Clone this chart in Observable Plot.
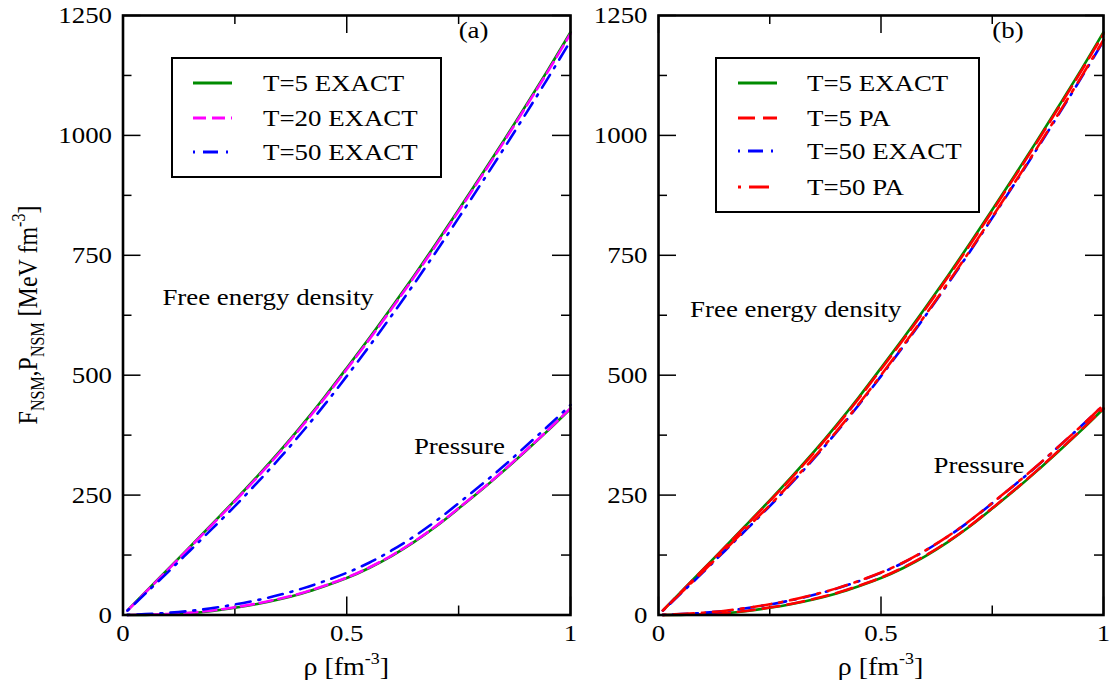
<!DOCTYPE html>
<html>
<head>
<meta charset="utf-8">
<script src="https://cdn.jsdelivr.net/npm/d3@7"></script>
<script src="https://cdn.jsdelivr.net/npm/@observablehq/plot@0.6"></script>
<style>
  html, body { margin: 0; padding: 0; background: #fff; }
  #wrap { width: 1110px; height: 683px; display: flex; overflow: hidden; }
  #wrap svg { display: block; overflow: visible; }
</style>
</head>
<body>
<div id="wrap"></div>
<script>
// ---------------- data ----------------
const rho = [0.01,0.05,0.1,0.15,0.2,0.25,0.3,0.35,0.4,0.45,0.5,0.55,0.6,0.65,0.7,0.75,0.8,0.85,0.9,0.95,1.0];

const F_T5_EXACT  = [9.5,47.5,95,142.5,190.5,239,289,341,396,454,515,577,641,707,775,845,916,988,1062,1137,1215];
const F_T20_EXACT = [9.4,47,94,141.3,189,237.2,287,338.8,393.6,451.5,512.3,574.2,638,704,772,842,913,985,1059,1134,1212];
const F_T50_EXACT = [9.2,44.5,89,134.5,180.5,227,276,327,381,438,498,560,624,690,758,828,899,971,1045,1120,1197];
const F_T5_PA     = [9.5,47.3,94.5,141.8,189.5,237.5,287,338.8,393.5,451.5,512.3,574,638,704,772,842,913,985,1059,1134,1212];
const F_T50_PA    = [9.3,45.5,90.5,136.5,182.5,229,278,329,383,440,500,562,626,692,760,830,901,973,1047,1122,1199];

const P_T5_EXACT  = [0,0.3,1.5,4,8.5,15,23,33,45,60,77,98,123,152,185,222,260,300,342,385,430];
const P_T20_EXACT = [0.1,0.6,2.1,4.8,9.4,16,24,34,46,61,78,99,124,153,186,223,261,301,343,386,431];
const P_T50_EXACT = [0.3,1.8,4.5,8.5,14.5,22,31,42,55,70.5,88,109,134.5,163.5,196.5,233,271,310,352,394,438];
const P_T5_PA     = [0,0.4,1.7,4.3,8.9,15.5,23.6,33.7,45.8,61,78,99,124,153,186,223,261,301,343,386,431];
const P_T50_PA    = [0.3,2,4.8,9,15,22.5,31.5,42.5,55.5,71,88.5,109.5,135,164,197,233.5,271.5,310.5,352,394,438];

const xMajor = [0, 0.5, 1];
const xMinor = [0.25, 0.75];
const yMajor = [0, 250, 500, 750, 1000, 1250];
const yMinor = [125, 375, 625, 875, 1125];

const legendA = ["T=5 EXACT", "T=20 EXACT", "T=50 EXACT"];
const legendB = ["T=5 EXACT", "T=5 PA", "T=50 EXACT", "T=50 PA"];

const annotA = [{x: 0.088, y: 662, text: "Free energy density"}, {x: 0.65, y: 351, text: "Pressure"}];
const annotB = [{x: 0.071, y: 637, text: "Free energy density"}, {x: 0.618, y: 312, text: "Pressure"}];
const panelLabelA = [{x: 0.75, y: 1220, text: "(a)"}];
const panelLabelB = [{x: 0.75, y: 1220, text: "(b)"}];

// ---------------- styles ----------------
const FONT = '"Liberation Serif", "Times New Roman", serif';
const STRETCH = 1.12;
const STY = {
  t5:    {stroke: "#008b00", dash: null},
  t20:   {stroke: "#ff00ff", dash: "13,6"},
  t50:   {stroke: "#0000ff", dash: "2,8,15,8"},
  t5pa:  {stroke: "#ff0000", dash: "17,8"},
  t50pa: {stroke: "#ff0000", dash: "3,8,20,8"}
};

function table(vals) { return rho.map((r, i) => ({rho: r, v: vals[i]})); }

function lineMarks(vals, sty) {
  return Plot.line(table(vals), {
    x: "rho", y: "v", curve: "natural",
    stroke: sty.stroke, strokeWidth: 2.6,
    strokeDasharray: sty.dash ?? undefined
  });
}

function stretchTexts(svg) {
  svg.querySelectorAll("text").forEach(t => {
    if (t.classList.contains("nostretch")) return;
    const tr = t.getAttribute("transform") || "";
    const x = parseFloat(t.getAttribute("x")) || 0;
    t.setAttribute("transform", `${tr} translate(${x * (1 - STRETCH)},0) scale(${STRETCH},1)`);
  });
}

function panel({width, ml, mr, series, annots, plabel, legend, legendStyles, box, yTitle}) {
  const H = 683, mt = 15, mb = 68.5;
  const pw = width - ml - mr, ph = H - mt - mb;
  const tick = {stroke: "black", strokeWidth: 1.5};
  const marks = [
    Plot.axisX(xMajor, {tickSize: 0, tickPadding: 9, tickFormat: d => String(d), fontSize: 24}),
    Plot.axisY(yMajor, {tickSize: 0, tickPadding: 11, tickFormat: d => String(d), fontSize: 24}),
    Plot.tickX(xMajor, {x: d => d, insetTop: ph - 18, ...tick}),
    Plot.tickX(xMajor, {x: d => d, insetBottom: ph - 18, ...tick}),
    Plot.tickX(xMinor, {x: d => d, insetTop: ph - 9, ...tick}),
    Plot.tickX(xMinor, {x: d => d, insetBottom: ph - 9, ...tick}),
    Plot.tickY(yMajor, {y: d => d, insetRight: pw - 18, ...tick}),
    Plot.tickY(yMajor, {y: d => d, insetLeft: pw - 18, ...tick}),
    Plot.tickY(yMinor, {y: d => d, insetRight: pw - 9, ...tick}),
    Plot.tickY(yMinor, {y: d => d, insetLeft: pw - 9, ...tick}),
    ...series.map(([vals, sty]) => lineMarks(vals, sty)),
    Plot.frame({stroke: "black", strokeWidth: 2.6}),
    Plot.text(annots, {x: "x", y: "y", text: "text", textAnchor: "start", lineAnchor: "middle", fontSize: 24, fill: "black"}),
    Plot.text(plabel, {x: "x", y: "y", text: "text", textAnchor: "start", lineAnchor: "middle", fontSize: 24, fill: "black"})
  ];
  const chart = Plot.plot({
    width, height: H, marginTop: mt, marginBottom: mb, marginLeft: ml, marginRight: mr,
    x: {domain: [0, 1], label: null},
    y: {domain: [0, 1250], label: null},
    style: {fontFamily: FONT, fontSize: "24px", background: "white", color: "black", overflow: "visible"},
    marks
  });
  const svg = d3.select(chart);

  // x-axis title: ρ [fm^-3]
  const xt = svg.append("text")
    .attr("x", ml + pw / 2).attr("y", 675)
    .attr("text-anchor", "middle")
    .attr("font-family", FONT).attr("font-size", 25).attr("fill", "black");
  xt.append("tspan").text("ρ [fm");
  xt.append("tspan").attr("font-size", 16).attr("dy", -11).text("-3");
  xt.append("tspan").attr("dy", 11).text("]");

  // y-axis title
  if (yTitle) {
    const yt = svg.append("text")
      .attr("class", "nostretch")
      .attr("transform", `translate(37,315) rotate(-90) scale(1,${STRETCH})`)
      .attr("text-anchor", "middle")
      .attr("font-family", FONT).attr("font-size", 24).attr("fill", "black");
    yt.append("tspan").text("F");
    yt.append("tspan").attr("font-size", 16).attr("dy", 6).text("NSM");
    yt.append("tspan").attr("dy", -6).text(",P");
    yt.append("tspan").attr("font-size", 16).attr("dy", 6).text("NSM");
    yt.append("tspan").attr("dy", -6).text(" [MeV fm");
    yt.append("tspan").attr("font-size", 16).attr("dy", -11).text("-3");
    yt.append("tspan").attr("dy", 11).text("]");
  }

  // legend box
  const g = svg.append("g");
  g.append("rect").attr("x", box.x).attr("y", box.y).attr("width", box.w).attr("height", box.h)
    .attr("fill", "white").attr("stroke", "black").attr("stroke-width", 2);
  legend.forEach((name, i) => {
    const y = box.rows[i];
    const s = legendStyles[i];
    g.append("line").attr("x1", box.lx1).attr("x2", box.lx2).attr("y1", y).attr("y2", y)
      .attr("stroke", s.stroke).attr("stroke-width", 3)
      .attr("stroke-dasharray", s.dash ?? null);
    g.append("text").attr("x", box.tx).attr("y", y).attr("dy", "0.35em")
      .attr("text-anchor", "start")
      .attr("font-family", FONT).attr("font-size", 24).attr("fill", "black").text(name);
  });

  stretchTexts(chart);
  return chart;
}

const wrap = document.getElementById("wrap");

wrap.appendChild(panel({
  width: 590, ml: 122.5, mr: 20,
  series: [
    [F_T5_EXACT, STY.t5], [P_T5_EXACT, STY.t5],
    [F_T20_EXACT, STY.t20], [P_T20_EXACT, STY.t20],
    [F_T50_EXACT, STY.t50], [P_T50_EXACT, STY.t50]
  ],
  annots: annotA, plabel: panelLabelA,
  legend: legendA, legendStyles: [STY.t5, STY.t20, STY.t50],
  box: {x: 172, y: 58, w: 269, h: 119, rows: [83, 118, 152], lx1: 193, lx2: 232, tx: 263},
  yTitle: true
}));

wrap.appendChild(panel({
  width: 520, ml: 68, mr: 7,
  series: [
    [F_T5_EXACT, STY.t5], [P_T5_EXACT, STY.t5],
    [F_T5_PA, STY.t5pa], [P_T5_PA, STY.t5pa],
    [F_T50_EXACT, STY.t50], [P_T50_EXACT, STY.t50],
    [F_T50_PA, STY.t50pa], [P_T50_PA, STY.t50pa]
  ],
  annots: annotB, plabel: panelLabelB,
  legend: legendB, legendStyles: [STY.t5, STY.t5pa, STY.t50, STY.t50pa],
  box: {x: 126, y: 58, w: 263, h: 154, rows: [83, 118, 151, 187], lx1: 148, lx2: 187, tx: 217},
  yTitle: false
}));
</script>
</body>
</html>
